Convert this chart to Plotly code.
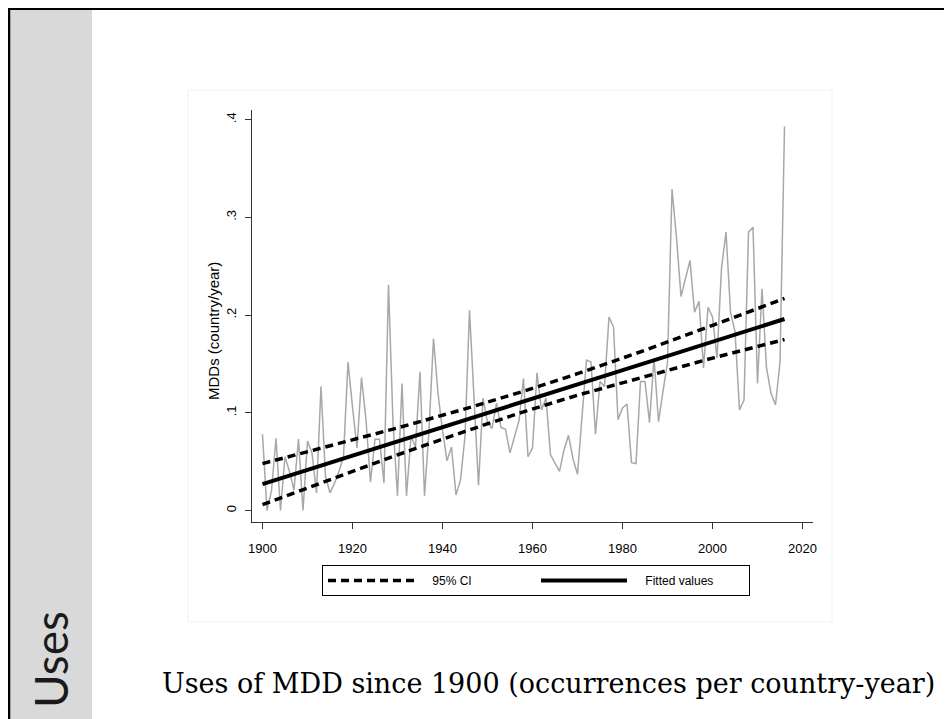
import plotly.graph_objects as go

# ---------------- data ----------------
years = list(range(1900, 2017))
mdd = [
    0.078, 0.000, 0.020, 0.074, 0.000, 0.055, 0.040, 0.021, 0.073, 0.000,   # 1900-1909
    0.071, 0.059, 0.018, 0.127, 0.035, 0.018, 0.028, 0.040, 0.055, 0.152,   # 1910-1919
    0.106, 0.064, 0.136, 0.093, 0.029, 0.073, 0.073, 0.028, 0.231, 0.090,   # 1920-1929
    0.015, 0.130, 0.015, 0.076, 0.065, 0.142, 0.015, 0.082, 0.176, 0.120,   # 1930-1939
    0.082, 0.051, 0.065, 0.016, 0.031, 0.076, 0.205, 0.110, 0.026, 0.115,   # 1940-1949
    0.090, 0.084, 0.110, 0.085, 0.083, 0.059, 0.076, 0.092, 0.135, 0.055,   # 1950-1959
    0.064, 0.141, 0.103, 0.115, 0.057, 0.049, 0.040, 0.062, 0.077, 0.053,   # 1960-1969
    0.037, 0.096, 0.154, 0.152, 0.078, 0.132, 0.127, 0.198, 0.188, 0.093,   # 1970-1979
    0.105, 0.109, 0.049, 0.048, 0.132, 0.132, 0.090, 0.156, 0.091, 0.122,   # 1980-1989
    0.152, 0.329, 0.279, 0.219, 0.238, 0.256, 0.203, 0.214, 0.146, 0.208,   # 1990-1999
    0.198, 0.156, 0.248, 0.285, 0.203, 0.183, 0.103, 0.113, 0.285, 0.290,   # 2000-2009
    0.130, 0.227, 0.146, 0.120, 0.108, 0.152, 0.393,                        # 2010-2016
]

fit_years = [1900, 1915, 1930, 1945, 1958, 1970, 1985, 2000, 2016]
fitted = [0.027, 0.0489, 0.0707, 0.0926, 0.1115, 0.129, 0.1508, 0.1727, 0.196]
ci_upper = [0.048, 0.066, 0.0845, 0.104, 0.122, 0.140, 0.164, 0.1895, 0.217]
ci_lower = [0.006, 0.0318, 0.057, 0.081, 0.101, 0.118, 0.137, 0.156, 0.175]

x_ticks = [1900, 1920, 1940, 1960, 1980, 2000, 2020]
y_ticks = [0, 0.1, 0.2, 0.3, 0.4]
y_ticktext = ["0", ".1", ".2", ".3", ".4"]

legend_ci = "95% CI"
legend_fit = "Fitted values"
y_title = "MDDs (country/year)"
caption = "Uses of MDD since 1900 (occurrences per country-year)"
side_label = "Uses"

# ---------------- layout helpers ----------------
# targets are measured in screenshot pixels; the page body adds an 8px offset
W, H = 952, 719
OFF = 8
SL, SR, ST, SB = 252, 813, 110, 522          # plot area in screenshot pixels
PL, PR, PT, PB = SL - OFF, SR - OFF, ST - OFF, SB - OFF


def px(x):
    return (x - SL) / (SR - SL)


def py(y):
    return (SB - y) / (SB - ST)


PAD = "\u00a0\u00a0\u00a0\u00a0"   # gap between legend key and its label

fig = go.Figure()

fig.add_trace(go.Scatter(
    x=years, y=mdd, mode="lines",
    line=dict(color="#a8a8a8", width=1.5),
    showlegend=False, hoverinfo="skip",
))
fig.add_trace(go.Scatter(
    x=fit_years, y=ci_upper, mode="lines", name=PAD + legend_ci,
    legendgroup="ci", line=dict(color="black", width=3.5, dash="8px,5px"),
))
fig.add_trace(go.Scatter(
    x=fit_years, y=ci_lower, mode="lines", name=PAD + legend_ci,
    legendgroup="ci", showlegend=False,
    line=dict(color="black", width=3.5, dash="8px,5px"),
))
fig.add_trace(go.Scatter(
    x=fit_years, y=fitted, mode="lines", name=PAD + legend_fit,
    line=dict(color="black", width=4),
))

axis_font = dict(family="Liberation Sans, Arial, sans-serif", size=13, color="black")

fig.update_layout(
    width=W, height=H,
    margin=dict(l=PL, r=W - PR, t=PT, b=H - PB, pad=0),
    paper_bgcolor="white", plot_bgcolor="white",
    font=axis_font,
    xaxis=dict(
        range=[1897.67, 2022.33], tickvals=x_ticks,
        showgrid=False, zeroline=False, showline=True, linecolor="#333333", linewidth=1,
        ticks="outside", ticklen=6, tickcolor="#333333", tickwidth=1,
        tickfont=axis_font, ticklabelstandoff=8,
    ),
    yaxis=dict(
        range=[-0.01177, 0.4099], tickvals=y_ticks, ticktext=y_ticktext,
        showgrid=False, zeroline=False, showline=True, linecolor="#333333", linewidth=1,
        ticks="outside", ticklen=6, tickcolor="#333333", tickwidth=1,
        tickangle=-90, tickfont=axis_font, ticklabelstandoff=4,
    ),
    legend=dict(
        orientation="h", x=px(536), y=py(565), xanchor="center", yanchor="top",
        bordercolor="black", borderwidth=1, bgcolor="white",
        font=dict(family="Liberation Sans, Arial, sans-serif", size=12, color="black"),
        itemwidth=86, entrywidth=112, entrywidthmode="pixels",
        traceorder="normal",
    ),
)

shapes = [
    # grey side bar
    dict(type="rect", xref="paper", yref="paper", x0=px(9), x1=px(92), y0=py(0), y1=py(740),
         fillcolor="#d9d9d9", line=dict(width=0), layer="below"),
    # faint graph-region border
    dict(type="rect", xref="paper", yref="paper", x0=px(188), x1=px(832), y0=py(622), y1=py(90),
         fillcolor="rgba(0,0,0,0)", line=dict(color="#eef0f0", width=1), layer="below"),
    # slide border
    dict(type="line", xref="paper", yref="paper", x0=px(8), x1=px(947), y0=py(9), y1=py(9),
         line=dict(color="black", width=2)),
    dict(type="line", xref="paper", yref="paper", x0=px(9), x1=px(9), y0=py(8), y1=py(740),
         line=dict(color="black", width=2.5)),
    dict(type="line", xref="paper", yref="paper", x0=px(947), x1=px(947), y0=py(8), y1=py(740),
         line=dict(color="black", width=2)),
]
fig.update_layout(shapes=shapes)

fig.add_annotation(
    x=px(213), y=py(402), xref="paper", yref="paper", text=y_title,
    textangle=-90, showarrow=False, xanchor="center", yanchor="bottom",
    font=dict(family="Liberation Sans, Arial, sans-serif", size=15, color="black"),
)
fig.add_annotation(
    x=px(548), y=py(683), xref="paper", yref="paper", text=caption,
    showarrow=False, xanchor="center", yanchor="middle",
    font=dict(family="DejaVu Serif, serif", size=27, color="black"),
)
fig.add_annotation(
    x=px(50), y=py(660), xref="paper", yref="paper", text=side_label,
    textangle=-90, showarrow=False, xanchor="center", yanchor="middle",
    font=dict(family="Lato, Open Sans, sans-serif", size=46, color="#1a1a1a"),
)

fig.write_html("out.html")
